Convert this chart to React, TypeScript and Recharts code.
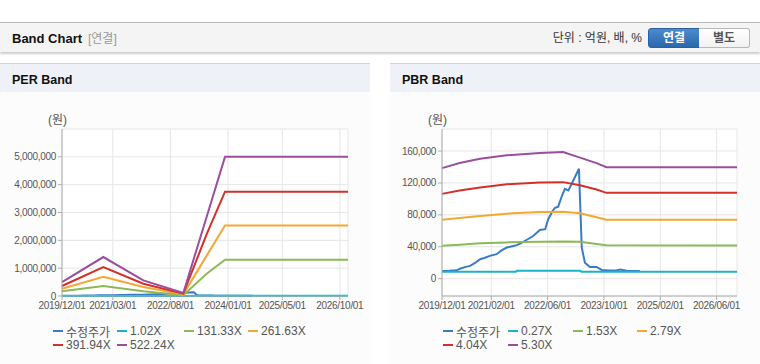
import { LineChart, Line, XAxis, YAxis, CartesianGrid } from 'recharts';

const FONT = '"Liberation Sans", Arial, "Noto Sans CJK KR", sans-serif';

// x values are months counted from 2019/12/01
const PER_TICKS = [0, 15, 32, 49, 65, 82];
const PER_TICK_LABELS = ['2019/12/01', '2021/03/01', '2022/08/01', '2024/01/01', '2025/05/01', '2026/10/01'];
const PER_X_END = 84.4;
const PER_Y_TICKS = [0, 1000000, 2000000, 3000000, 4000000, 5000000];

const PBR_TICKS = [0, 14, 30, 46, 62, 78];
const PBR_TICK_LABELS = ['2019/12/01', '2021/02/01', '2022/06/01', '2023/10/01', '2025/02/01', '2026/06/01'];
const PBR_X_END = 83.8;
const PBR_Y_TICKS = [0, 40000, 80000, 120000, 160000];

// 수정주가 (adjusted price), shared by both charts
const PRICE_MONTHS = [0, 2, 4.2, 5.1, 6.5, 8, 9.5, 10.8, 12, 13.6, 15.5, 16.9, 18.4, 20.3, 21.2, 22.2, 24.1, 25.9, 27.8, 29.3, 30.2, 31.6, 32.1, 33, 34, 34.9, 35.9, 37.3, 38.9, 39.2, 39.7, 40.6, 42, 43.9, 45.4, 47.7, 49.5, 50.6, 52.5, 56.2];
const PRICE_VALUES = [9500, 9800, 10500, 12500, 14500, 16000, 20000, 24400, 26000, 28600, 30700, 35500, 39000, 41000, 42000, 44000, 48800, 53500, 61000, 62000, 74800, 86000, 88700, 90300, 103000, 112600, 110500, 123000, 137800, 100000, 39000, 20000, 14700, 14700, 11000, 10400, 10200, 11500, 10000, 9500];

// PER bands
const PER_BAND_MONTHS = [0, 12.2, 24, 35.8, 42.7, 48.1, 84.4];
const PER_1_02 = [1000, 2700, 1100, 200, 5500, 9800, 9800];
const PER_131_33 = [170000, 360000, 170000, 30000, 800000, 1300000, 1300000];
const PER_261_63 = [260000, 690000, 320000, 60000, 1450000, 2530000, 2530000];
const PER_391_94 = [360000, 1040000, 440000, 85000, 2220000, 3750000, 3750000];
const PER_522_24 = [500000, 1400000, 560000, 110000, 2850000, 5000000, 5000000];

// PBR bands
const PBR_BAND_MONTHS = [0, 5, 10.8, 18.4, 27.8, 34.4, 39.2, 43.9, 46.7, 83.8];
const PBR_0_27_MONTHS = [0, 21, 21.3, 39.3, 39.6, 83.8];
const PBR_0_27 = [8800, 8800, 9800, 9800, 8700, 8700];
const PBR_1_53 = [41200, 42500, 44500, 45500, 46300, 46600, 46300, 43500, 42000, 41500];
const PBR_2_79 = [74000, 76000, 78500, 81500, 83500, 84000, 81900, 76900, 74000, 74000];
const PBR_4_04 = [106300, 110500, 114300, 118400, 120500, 121000, 117200, 111700, 107600, 107600];
const PBR_5_30 = [138600, 144900, 150400, 154600, 157500, 158700, 151700, 144900, 139800, 139800];

const COLORS = ['#3a7bc8', '#1ab2c6', '#8bb956', '#f4a733', '#d3302b', '#9a4f9d'];

const pts = (ms: number[], vs: number[]) => ms.map((m, i) => ({ m, v: vs[i] }));

type Series = { name: string; data: { m: number; v: number }[] };

const PER_SERIES: Series[] = [
  { name: '수정주가', data: pts(PRICE_MONTHS, PRICE_VALUES) },
  { name: '1.02X', data: pts(PER_BAND_MONTHS, PER_1_02) },
  { name: '131.33X', data: pts(PER_BAND_MONTHS, PER_131_33) },
  { name: '261.63X', data: pts(PER_BAND_MONTHS, PER_261_63) },
  { name: '391.94X', data: pts(PER_BAND_MONTHS, PER_391_94) },
  { name: '522.24X', data: pts(PER_BAND_MONTHS, PER_522_24) },
];

const PBR_SERIES: Series[] = [
  { name: '수정주가', data: pts(PRICE_MONTHS, PRICE_VALUES) },
  { name: '0.27X', data: pts(PBR_0_27_MONTHS, PBR_0_27) },
  { name: '1.53X', data: pts(PBR_BAND_MONTHS, PBR_1_53) },
  { name: '2.79X', data: pts(PBR_BAND_MONTHS, PBR_2_79) },
  { name: '4.04X', data: pts(PBR_BAND_MONTHS, PBR_4_04) },
  { name: '5.30X', data: pts(PBR_BAND_MONTHS, PBR_5_30) },
];

const tickStyle = { fill: '#555', fontSize: 10, fontFamily: FONT, letterSpacing: -0.3 };
const frame = { stroke: '#acacac' };

function BandChart(props: {
  series: Series[];
  ticks: number[];
  tickLabels: string[];
  xEnd: number;
  yTicks: number[];
  yDomain: [number, number];
  yWidth: number;
  rightMargin: number;
}) {
  const { series, ticks, tickLabels, xEnd, yTicks, yDomain, yWidth, rightMargin } = props;
  return (
    <LineChart width={370} height={225} margin={{ top: 28, right: rightMargin, left: 0, bottom: 10 }}>
      <CartesianGrid stroke="#e6e6e6" fill="#fff" />
      <XAxis
        dataKey="m"
        type="number"
        domain={[0, xEnd]}
        ticks={ticks}
        interval={0}
        tickFormatter={(v: number) => tickLabels[ticks.indexOf(v)] ?? ''}
        tick={tickStyle}
        tickSize={4}
        axisLine={frame}
        tickLine={frame}
        height={20}
      />
      <XAxis xAxisId="t" orientation="top" type="number" domain={[0, xEnd]} tick={false} tickLine={false} axisLine={frame} height={0} />
      <YAxis
        type="number"
        domain={yDomain}
        ticks={yTicks}
        interval={0}
        tickFormatter={(v: number) => v.toLocaleString('en-US')}
        tick={tickStyle}
        tickSize={4}
        axisLine={frame}
        tickLine={frame}
        width={yWidth}
      />
      <YAxis yAxisId="r" orientation="right" type="number" domain={yDomain} tick={false} tickLine={false} axisLine={frame} width={0} />
      {series.map((s, i) => (
        <Line
          key={s.name}
          data={s.data}
          dataKey="v"
          type="linear"
          stroke={COLORS[i]}
          strokeWidth={2}
          dot={false}
          isAnimationActive={false}
        />
      ))}
    </LineChart>
  );
}

function Legend({ series, cols }: { series: Series[]; cols: number[] }) {
  return (
    <>
      {series.map((s, i) => {
        const left = cols[i % 4];
        const top = i < 4 ? 322 : 336;
        return (
          <div key={s.name} style={{ position: 'absolute', left, top, height: 16, display: 'flex', alignItems: 'center', fontSize: 12, color: '#555' }}>
            <span style={{ display: 'inline-block', width: 10, height: 2, background: COLORS[i], marginRight: 3 }} />
            <span>{s.name}</span>
          </div>
        );
      })}
    </>
  );
}

function Panel({ left, title, children }: { left: number; title: string; children: any }) {
  return (
    <div style={{ position: 'absolute', left, top: 63, width: 370, height: 300, background: '#fcfcfc', borderTop: '1px solid #d2d2d2', borderBottom: '1px solid #d6d6d6' }}>
      <div style={{ height: 28, background: '#eef2f8', position: 'relative' }}>
        <span style={{ position: 'absolute', left: 12, top: 8, fontSize: 12.5, fontWeight: 'bold', color: '#111', lineHeight: '16px' }}>{title}</span>
      </div>
      {children}
    </div>
  );
}

export default function App() {
  return (
    <div style={{ position: 'absolute', left: 0, top: 0, width: 760, height: 364, background: '#fff', fontFamily: FONT, overflow: 'hidden' }}>
      <div style={{ position: 'absolute', left: 0, top: 22, width: 760, height: 29, background: '#f4f4f4', borderTop: '1px solid #b9b9b9', boxShadow: '0 2px 2px rgba(0,0,0,0.2)' }}>
        <span style={{ position: 'absolute', left: 12, top: 8, fontSize: 13, fontWeight: 'bold', color: '#111', lineHeight: '16px' }}>Band Chart</span>
        <span style={{ position: 'absolute', left: 88, top: 8, fontSize: 12, color: '#999', lineHeight: '16px' }}>[연결]</span>
        <span style={{ position: 'absolute', right: 118, top: 7, fontSize: 12, color: '#333', lineHeight: '16px' }}>단위 : 억원, 배, %</span>
        <div style={{ position: 'absolute', left: 648, top: 5, width: 50, height: 18, background: 'linear-gradient(#4a8bd0, #2b67ab)', border: '1px solid #2a609f', borderRadius: '3px 0 0 3px', color: '#fff', fontSize: 12, fontWeight: 'bold', textAlign: 'center', lineHeight: '18px' }}>연결</div>
        <div style={{ position: 'absolute', left: 699, top: 5, width: 50, height: 18, background: 'linear-gradient(#ffffff, #f1f1f1)', border: '1px solid #b8b8b8', borderLeft: 'none', borderRadius: '0 3px 3px 0', color: '#555', fontSize: 12, fontWeight: 'bold', textAlign: 'center', lineHeight: '18px' }}>별도</div>
      </div>

      <Panel left={0} title="PER Band">
        <div style={{ position: 'absolute', left: 48, top: 46, fontSize: 12, color: '#555' }}>(원)</div>
        <div style={{ position: 'absolute', left: 0, top: 37 }}>
          <BandChart
            series={PER_SERIES}
            ticks={PER_TICKS}
            tickLabels={PER_TICK_LABELS}
            xEnd={PER_X_END}
            yTicks={PER_Y_TICKS}
            yDomain={[0, 6000000]}
            yWidth={62}
            rightMargin={22}
          />
        </div>
        <div style={{ position: 'absolute', left: 0, top: -63, width: 370 }}>
          <Legend series={PER_SERIES} cols={[53, 117, 184, 248]} />
        </div>
      </Panel>

      <Panel left={390} title="PBR Band">
        <div style={{ position: 'absolute', left: 38, top: 46, fontSize: 12, color: '#555' }}>(원)</div>
        <div style={{ position: 'absolute', left: 0, top: 37 }}>
          <BandChart
            series={PBR_SERIES}
            ticks={PBR_TICKS}
            tickLabels={PBR_TICK_LABELS}
            xEnd={PBR_X_END}
            yTicks={PBR_Y_TICKS}
            yDomain={[-21700, 187600]}
            yWidth={52}
            rightMargin={23}
          />
        </div>
        <div style={{ position: 'absolute', left: 0, top: -63, width: 370 }}>
          <Legend series={PBR_SERIES} cols={[53, 118, 183, 247]} />
        </div>
      </Panel>
    </div>
  );
}
